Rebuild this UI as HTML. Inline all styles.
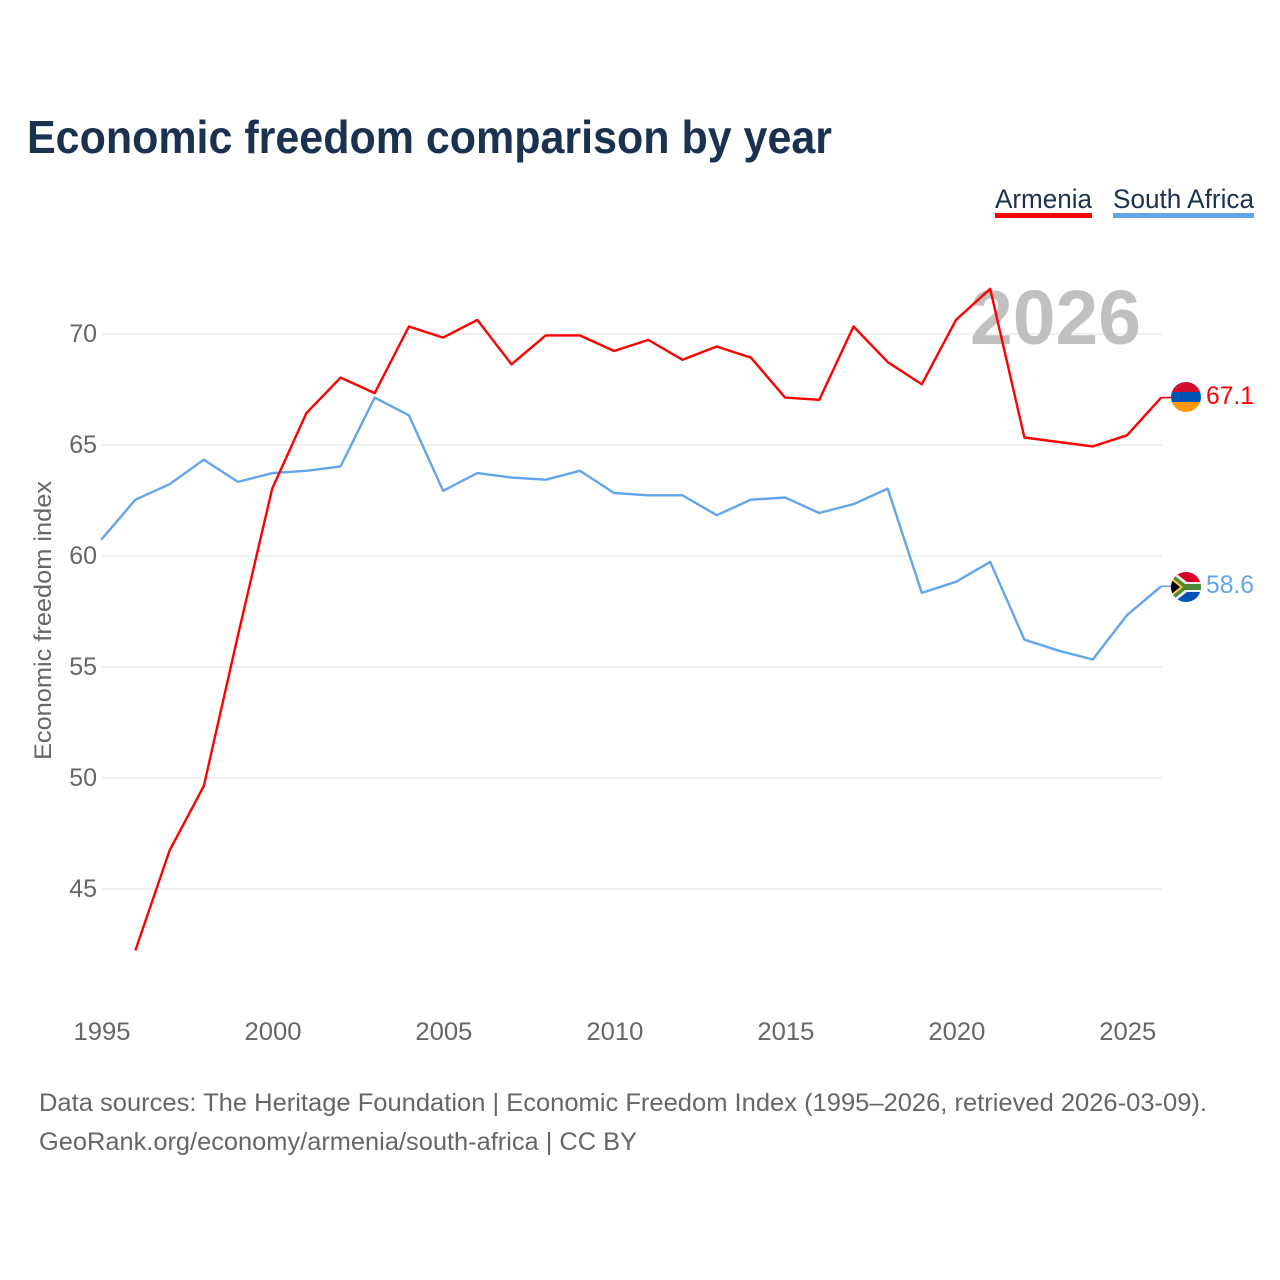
<!DOCTYPE html>
<html>
<head>
<meta charset="utf-8">
<title>Economic freedom comparison by year</title>
<style>
html,body{margin:0;padding:0;background:#fff;}
svg{display:block;}
text{font-family:"Liberation Sans",sans-serif;}
</style>
</head>
<body>
<svg id="chart" xmlns="http://www.w3.org/2000/svg" width="1280" height="1280" viewBox="0 0 1280 1280">
  <defs>
    <clipPath id="clip-am"><circle cx="1186" cy="397" r="15"/></clipPath>
    <clipPath id="clip-za"><circle cx="1186" cy="587" r="15"/></clipPath>
  </defs>
  <rect width="1280" height="1280" fill="#fff"/>
  <text x="27" y="153" font-size="46" font-weight="700" fill="#1a3150" textLength="805" lengthAdjust="spacingAndGlyphs">Economic freedom comparison by year</text>

  <g>
    <g>
      <text x="995" y="208" font-size="27" fill="#1a3150" textLength="97" lengthAdjust="spacingAndGlyphs">Armenia</text>
      <rect x="995" y="213" width="97" height="5" fill="#ff0000"/>
    </g>
    <g>
      <text x="1113" y="208" font-size="27" fill="#1a3150" textLength="141" lengthAdjust="spacingAndGlyphs">South Africa</text>
      <rect x="1113" y="213" width="141" height="5" fill="#62a5ec"/>
    </g>
  </g>

  <g id="grid"></g>
  <text x="970" y="344" font-size="77" font-weight="700" fill="#bdbdbd" fill-opacity="0.95" textLength="171" lengthAdjust="spacingAndGlyphs">2026</text>
  <g id="yticks"></g>
  <g id="xticks"></g>
  <text transform="translate(51,620.5) rotate(-90)" text-anchor="middle" font-size="24.500" fill="#666" textLength="279" lengthAdjust="spacingAndGlyphs">Economic freedom index</text>

  <g id="series" transform="translate(-0.8,-0.8)"></g>

  <g>
    <g clip-path="url(#clip-am)">
      <rect x="1171" y="382" width="30" height="10" fill="#d0102e"/>
      <rect x="1171" y="392" width="30" height="10" fill="#0052b4"/>
      <rect x="1171" y="402" width="30" height="10" fill="#ff9811"/>
    </g>
  </g>
  <g>
    <g clip-path="url(#clip-za)">
      <rect x="1171" y="572" width="30" height="15" fill="#d80027"/>
      <rect x="1171" y="587" width="30" height="15" fill="#0052b4"/>
      <path d="M1169 568 L1187 582 H1203 V592 H1187 L1169 606 Z" fill="#f0f0f0"/>
      <path d="M1169 571 L1185 584 H1203 V590 H1185 L1169 603 Z" fill="#4c8a3a"/>
      <path d="M1169 575 L1183 587 L1169 599 Z" fill="#ffc43a"/>
      <path d="M1169 578 L1180 587 L1169 596 Z" fill="#000"/>
    </g>
  </g>
  <text id="label-am" x="1206" y="404" font-size="25" fill="#ff0000" textLength="48" lengthAdjust="spacingAndGlyphs"></text>
  <text id="label-za" x="1206" y="593" font-size="25" fill="#62a5ec" textLength="48" lengthAdjust="spacingAndGlyphs"></text>

  <text x="39" y="1111" font-size="25" fill="#666" textLength="1168" lengthAdjust="spacingAndGlyphs">Data sources: The Heritage Foundation | Economic Freedom Index (1995–2026, retrieved 2026-03-09).</text>
  <text x="39" y="1150" font-size="25" fill="#666" textLength="598" lengthAdjust="spacingAndGlyphs">GeoRank.org/economy/armenia/south-africa | CC BY</text>
</svg>
<script>
const years = [1995,1996,1997,1998,1999,2000,2001,2002,2003,2004,2005,2006,2007,2008,2009,2010,2011,2012,2013,2014,2015,2016,2017,2018,2019,2020,2021,2022,2023,2024,2025,2026];
const armenia = [null,42.2,46.7,49.6,56.4,63.0,66.4,68.0,67.3,70.3,69.8,70.6,68.6,69.9,69.9,69.2,69.7,68.8,69.4,68.9,67.1,67.0,70.3,68.7,67.7,70.6,72.0,65.3,65.1,64.9,65.4,67.1];
const southAfrica = [60.7,62.5,63.2,64.3,63.3,63.7,63.8,64.0,67.1,66.3,62.9,63.7,63.5,63.4,63.8,62.8,62.7,62.7,61.8,62.5,62.6,61.9,62.3,63.0,58.3,58.8,59.7,56.2,55.7,55.3,57.3,58.6];
const yTickValues = [45,50,55,60,65,70];
const xTickValues = [1995,2000,2005,2010,2015,2020,2025];

const NS = 'http://www.w3.org/2000/svg';
const xScale = function (year) { return 102 + (year - 1995) * (1162 - 102) / 31; };
const yScale = function (value) { return 334 + (70 - value) * 22.2; };

function make(tag, parent) {
  const el = document.createElementNS(NS, tag);
  parent.appendChild(el);
  return el;
}

const gridGroup = document.getElementById('grid');
const yTickGroup = document.getElementById('yticks');
yTickValues.forEach(function (v) {
  const line = make('line', gridGroup);
  
  
  line.setAttribute('x1', 102);
  line.setAttribute('x2', 1162);
  line.setAttribute('y1', yScale(v));
  line.setAttribute('y2', yScale(v));
  line.setAttribute('stroke', '#e8e8e8');
  line.setAttribute('stroke-width', '1.2');

  const label = make('text', yTickGroup);
  
  
  label.setAttribute('x', 97);
  label.setAttribute('y', yScale(v) + 8);
  label.setAttribute('text-anchor', 'end');
  label.setAttribute('font-size', '25');
  label.setAttribute('fill', '#666');
  label.textContent = String(v);
});

const xTickGroup = document.getElementById('xticks');
xTickValues.forEach(function (y) {
  const label = make('text', xTickGroup);
  
  
  label.setAttribute('x', xScale(y));
  label.setAttribute('y', 1040);
  label.setAttribute('text-anchor', 'middle');
  label.setAttribute('font-size', '25');
  label.setAttribute('fill', '#666');
  label.setAttribute('textLength', '57');
  label.setAttribute('lengthAdjust', 'spacingAndGlyphs');
  label.textContent = String(y);
});

function drawSeries(values, color, name) {
  const group = document.getElementById('series');
  const pts = [];
  values.forEach(function (v, i) {
    if (v !== null) {
      pts.push(xScale(years[i]).toFixed(1) + ',' + yScale(v).toFixed(1));
    }
  });
  const line = make('polyline', group);
  
  
  line.setAttribute('points', pts.join(' '));
  line.setAttribute('fill', 'none');
  line.setAttribute('stroke', color);
  line.setAttribute('stroke-width', '2.4');
  line.setAttribute('stroke-linejoin', 'round');

  const last = values[values.length - 1];
  const connector = make('line', group);
  
  
  connector.setAttribute('x1', xScale(years[years.length - 1]));
  connector.setAttribute('x2', 1172);
  connector.setAttribute('y1', yScale(last));
  connector.setAttribute('y2', yScale(last));
  connector.setAttribute('stroke', color);
  connector.setAttribute('stroke-width', '1.6');
}

drawSeries(southAfrica, '#62a5ec', 'south-africa');
drawSeries(armenia, '#ff0000', 'armenia');

document.getElementById('label-am').textContent = armenia[armenia.length - 1].toFixed(1);
document.getElementById('label-za').textContent = southAfrica[southAfrica.length - 1].toFixed(1);
</script>
</body>
</html>
